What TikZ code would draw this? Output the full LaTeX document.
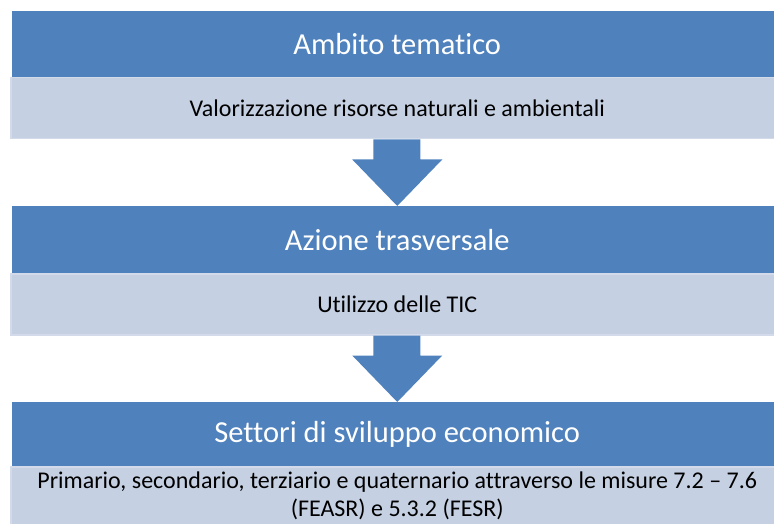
\documentclass[tikz,border=0pt]{standalone}
\usepackage{fontspec}
\setmainfont{Carlito}[Ligatures=NoCommon]
\usetikzlibrary{positioning, calc}
\definecolor{blu}{RGB}{79,129,189}
\definecolor{azzurro}{RGB}{197,208,227}
\definecolor{bordo}{RGB}{211,219,234}

\begin{document}
\begin{tikzpicture}[x=1pt, y=1pt,
        header/.style={fill=blu, text=white, anchor=north west, minimum width=770pt,
            inner sep=0pt, font=\fontsize{30.5}{36}\selectfont},
        detail/.style={fill=azzurro, draw=bordo, line width=1.5pt, anchor=north west,
            minimum width=773pt, inner sep=0pt, align=center, font=\fontsize{24}{28}\selectfont}]
        \useasboundingbox (0,0) rectangle (774,523);
        % tre livelli: intestazione + descrizione
        \node[header, minimum height=66pt] (amb) at (12,512) {Ambito tematico};
        \node[detail, minimum height=61pt] (ambdet) at (10,446) {Valorizzazione risorse naturali e ambientali};
        \node[header, minimum height=67pt] (az) at (12,317) {Azione trasversale};
        \node[detail, minimum height=61pt] (azdet) at (10,250) {Utilizzo delle TIC};
        \node[header, minimum height=64pt] (set) at (12,121) {Settori di sviluppo economico};
        \node[detail, minimum height=58pt] (setdet) at (10,57) {Primario, secondario, terziario e quaternario attraverso le misure 7.2 -- 7.6\\(FEASR) e 5.3.2 (FESR)};
        % frecce tra i livelli
        \foreach \a/\b in {ambdet/az, azdet/set}
            \fill[blu] let \p1=(\a.south), \p2=(\b.north) in
                (\x1-24pt,\y1) -- (\x1+23pt,\y1) -- (\x1+23pt,\y1-20pt) -- (\x1+45pt,\y1-20pt)
                -- (\x1,\y2) -- (\x1-45pt,\y1-20pt) -- (\x1-24pt,\y1-20pt) -- cycle;
    \end{tikzpicture}
\end{document}
